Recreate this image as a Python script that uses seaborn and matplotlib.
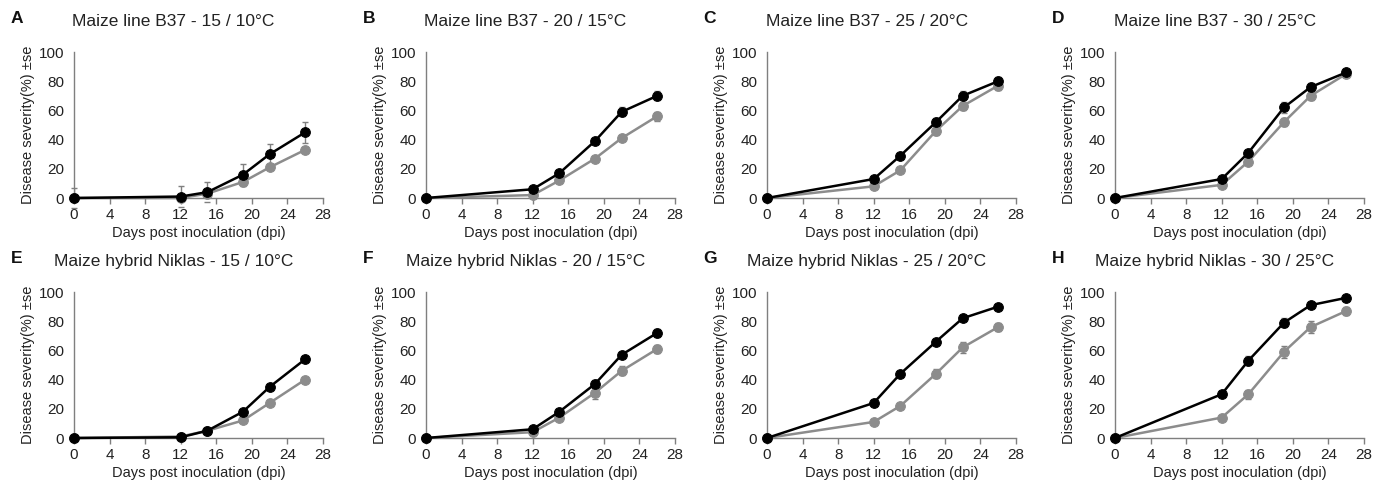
import numpy as np
import pandas as pd
import matplotlib
matplotlib.use("Agg")
import matplotlib.pyplot as plt
import seaborn as sns

sns.set_style("ticks")
plt.rcParams["font.family"] = ["Liberation Sans", "DejaVu Sans"]

# Data
days = [0, 12, 15, 19, 22, 26]

letters = ["A", "B", "C", "D", "E", "F", "G", "H"]
titles = [
    "Maize line B37 - 15 / 10°C",
    "Maize line B37 - 20 / 15°C",
    "Maize line B37 - 25 / 20°C",
    "Maize line B37 - 30 / 25°C",
    "Maize hybrid Niklas - 15 / 10°C",
    "Maize hybrid Niklas - 20 / 15°C",
    "Maize hybrid Niklas - 25 / 20°C",
    "Maize hybrid Niklas - 30 / 25°C",
]

black_mean = [
    [0, 1, 4, 16, 30, 45],
    [0, 6, 17, 39, 59, 70],
    [0, 13, 29, 52, 70, 80],
    [0, 13, 31, 62, 76, 86],
    [0, 0.5, 5, 18, 35, 54],
    [0, 6, 18, 37, 57, 72],
    [0, 24, 44, 66, 82, 90],
    [0, 30, 53, 79, 91, 96],
]
black_se = [
    [7, 7, 7, 7, 7, 7],
    [0.5, 1.5, 2, 2, 3, 3],
    [0.5, 1.5, 2, 3, 3, 3],
    [0.5, 1.5, 2, 4, 3, 2],
    [0.3, 0.5, 1, 1.5, 2, 2],
    [0.5, 1, 2, 3, 2, 3],
    [0.5, 2, 2, 2, 2, 2],
    [0.5, 2, 3, 3, 2, 1.5],
]
grey_mean = [
    [0, 0, 3, 11, 21, 33],
    [0, 2, 12, 27, 41, 56],
    [0, 8, 19, 46, 63, 77],
    [0, 9, 25, 52, 70, 85],
    [0, 1, 5, 12, 24, 40],
    [0, 4, 14, 31, 46, 61],
    [0, 11, 22, 44, 62, 76],
    [0, 14, 30, 59, 76, 87],
]
grey_se = [
    [0.5, 0.5, 1, 3, 2, 2],
    [0.5, 1, 1.5, 1.5, 2, 3],
    [0.5, 1.5, 1.5, 3, 3, 3],
    [0.5, 1.5, 2, 3, 3, 2],
    [0.3, 0.5, 1, 1.5, 1.5, 2],
    [0.5, 1, 2, 4, 3, 3],
    [0.5, 1.5, 2, 3, 4, 3],
    [0.5, 1.5, 3, 4, 4, 3],
]

W, H = 1386, 486
fig = plt.figure(figsize=(W / 100, H / 100), dpi=100)

# axes boxes in pixels: left x, top y of plot area
col_left = [74, 426, 767, 1115]
row_top = [52, 292]
ax_w, ax_h = 249, 146

axis_grey = "#7f7f7f"
black = "#000000"
grey = "#8c8c8c"
text_col = "#222222"

for i in range(8):
    r, c = divmod(i, 4)
    left = col_left[c] / W
    bottom = 1 - (row_top[r] + ax_h) / H
    ax = fig.add_axes([left, bottom, ax_w / W, ax_h / H])

    df = pd.DataFrame({
        "dpi": days * 2,
        "severity": grey_mean[i] + black_mean[i],
        "se": grey_se[i] + black_se[i],
        "line": ["grey"] * 6 + ["black"] * 6,
    })

    for name, col in [("grey", grey), ("black", black)]:
        sub = df[df["line"] == name]
        ax.errorbar(sub["dpi"], sub["severity"], yerr=sub["se"], fmt="none",
                    ecolor=axis_grey, elinewidth=1, capsize=2.5, capthick=1,
                    zorder=2)
        sns.lineplot(data=sub, x="dpi", y="severity", ax=ax, color=col,
                     marker="o", markersize=7, markeredgecolor=col,
                     linewidth=1.8, zorder=3)

    ax.set_xlim(0, 28)
    ax.set_ylim(0, 100)
    ax.set_xticks(range(0, 29, 4))
    ax.set_yticks(range(0, 101, 20))
    ax.tick_params(axis="x", length=4, color=axis_grey, labelsize=11,
                   labelcolor=text_col, width=1, pad=3)
    ax.tick_params(axis="y", length=0, labelsize=11, labelcolor=text_col,
                   pad=7)
    for s in ["top", "right"]:
        ax.spines[s].set_visible(False)
    for s in ["left", "bottom"]:
        ax.spines[s].set_color(axis_grey)
        ax.spines[s].set_linewidth(1)
    for ln in ax.lines:
        ln.set_clip_on(False)

    ax.set_xlabel("Days post inoculation (dpi)", fontsize=10.5, color=text_col,
                  labelpad=3)
    ax.set_ylabel("Disease severity(%) ±se", fontsize=10.5, color=text_col,
                  labelpad=3)
    ax.text(0.40, 1.21, titles[i], transform=ax.transAxes, ha="center",
            va="center", fontsize=12.5, color=text_col)
    ax.text(-0.255, 1.23, letters[i], transform=ax.transAxes, ha="left",
            va="center", fontsize=12.5, fontweight="bold", color="#111111")

fig.savefig("out.png", dpi=100)
